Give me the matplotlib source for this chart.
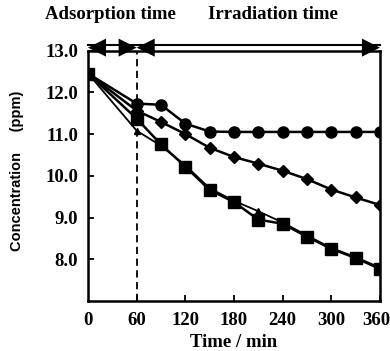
import matplotlib
matplotlib.use("Agg")
import matplotlib.pyplot as plt
import matplotlib.transforms as mtransforms

# ---- data ----
t_circle = [0, 60, 90, 120, 150, 180, 210, 240, 270, 300, 330, 360]
c_circle = [12.45, 11.73, 11.70, 11.25, 11.06, 11.05, 11.05, 11.05, 11.05, 11.05, 11.05, 11.05]

t_diamond = [0, 60, 90, 120, 150, 180, 210, 240, 270, 300, 330, 360]
c_diamond = [12.45, 11.56, 11.29, 11.00, 10.67, 10.45, 10.29, 10.12, 9.92, 9.67, 9.48, 9.30]

t_square = [0, 60, 90, 120, 150, 180, 210, 240, 270, 300, 330, 360]
c_square = [12.45, 11.37, 10.75, 10.22, 9.66, 9.37, 8.95, 8.85, 8.54, 8.25, 8.03, 7.77]

t_tri = [0, 60, 90, 120, 150, 180, 210, 240, 270, 300, 330, 360]
c_tri = [12.45, 11.08, 10.72, 10.25, 9.70, 9.40, 9.15, 8.88, 8.57, 8.27, 8.05, 7.80]

x_ticks = [0, 60, 120, 180, 240, 300, 360]
y_ticks = [8.0, 9.0, 10.0, 11.0, 12.0, 13.0]
y_ticklabels = ["8.0", "9.0", "10.0", "11.0", "12.0", "13.0"]

plt.rcParams['font.family'] = ['Liberation Serif', 'DejaVu Serif']
plt.rcParams['font.weight'] = 'bold'

FS = 13.5

fig = plt.figure(figsize=(3.9, 3.51), dpi=100)
ax = fig.add_axes([0.2256, 0.1425, 0.7487, 0.7135])

ax.plot(t_tri, c_tri, '-', color='black', lw=1.3, marker='^', ms=4.5, zorder=3)
ax.plot(t_square, c_square, '-', color='black', lw=1.8, marker='s', ms=8.5, zorder=4)
ax.plot(t_diamond, c_diamond, '-', color='black', lw=1.8, marker='D', ms=6.5, zorder=5)
ax.plot(t_circle, c_circle, '-', color='black', lw=1.8, marker='o', ms=8, zorder=6)

ax.axvline(60, color='black', lw=1.3, ls=(0, (4, 2.5)), zorder=2)

ax.set_xlim(0, 360)
ax.set_ylim(7.0, 13.0)
ax.set_xticks(x_ticks[1:])
ax.set_xticklabels([])
ax.set_yticks(y_ticks)
ax.set_yticklabels(y_ticklabels)
ax.tick_params(axis='both', direction='in', length=4, width=1.3, labelsize=FS)
ax.tick_params(axis='y', pad=7)
for lab in ax.get_yticklabels():
    lab.set_fontweight('bold')
for s in ax.spines.values():
    s.set_linewidth(1.8)

# x tick labels including 0
xtr = ax.get_xaxis_transform()
for xv in x_ticks:
    tr = xtr
    if xv == x_ticks[-1]:
        tr = mtransforms.offset_copy(xtr, fig=fig, x=-4, y=0, units='dots')
    ax.text(xv, -0.045, str(xv), transform=tr, ha='center', va='top',
            fontsize=FS, fontweight='bold')

ax.set_xlabel("Time / min", fontsize=FS, fontweight='bold', labelpad=20)
ax.set_ylabel("Concentration     (ppm)", fontsize=10.5, fontweight='bold',
              family=['Liberation Sans', 'DejaVu Sans'])
ax.yaxis.set_label_coords(-0.22, 0.52)

# double-line arrows on top
ax.plot([0, 360], [13.14, 13.14], color='black', lw=1.5, clip_on=False)
yarr = 13.07
for x0, x1 in [(0, 60), (60, 360)]:
    ax.annotate('', xy=(x0, yarr), xytext=(x1, yarr),
                arrowprops=dict(arrowstyle='<|-|>,head_length=1.3,head_width=0.65',
                                lw=0, fc='black', ec='black', shrinkA=0, shrinkB=0,
                                mutation_scale=10), annotation_clip=False)

fig.text(0.283, 0.958, "Adsorption time", ha='center', va='center', fontsize=FS, fontweight='bold')
fig.text(0.701, 0.958, "Irradiation time", ha='center', va='center', fontsize=FS, fontweight='bold')

fig.savefig("out.png", dpi=100)
